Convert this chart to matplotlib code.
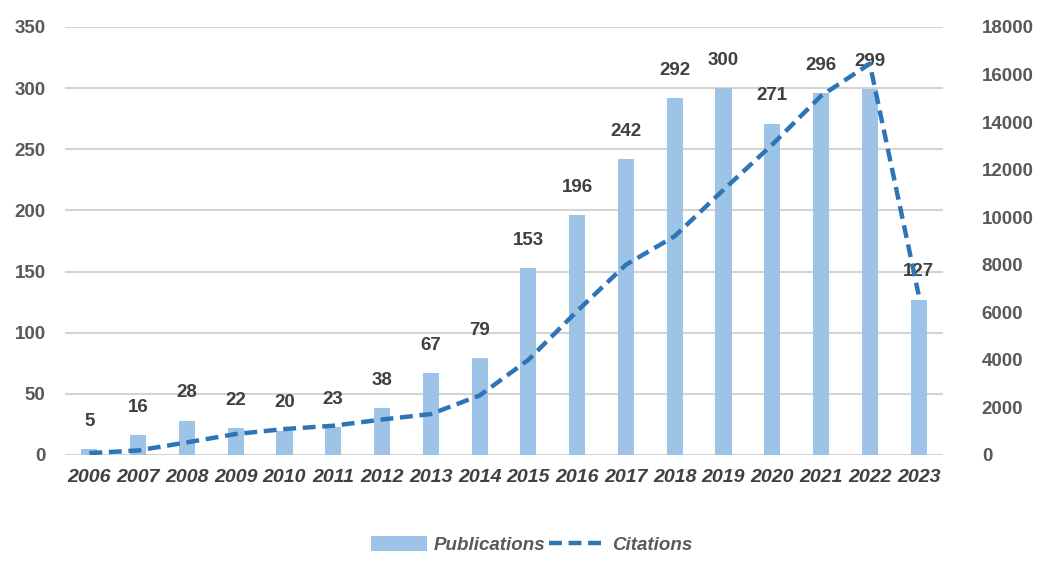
import matplotlib
matplotlib.use("Agg")
import matplotlib.pyplot as plt
from matplotlib.lines import Line2D
from matplotlib.patches import Patch

years = ["2006", "2007", "2008", "2009", "2010", "2011", "2012", "2013", "2014",
         "2015", "2016", "2017", "2018", "2019", "2020", "2021", "2022", "2023"]
publications = [5, 16, 28, 22, 20, 23, 38, 67, 79, 153, 196, 242, 292, 300, 271, 296, 299, 127]
citations = [80, 190, 530, 880, 1090, 1230, 1490, 1720, 2500, 4000, 6050, 8000, 9200,
             11150, 13050, 15100, 16450, 6750]
left_ticks = [0, 50, 100, 150, 200, 250, 300, 350]
right_ticks = [0, 2000, 4000, 6000, 8000, 10000, 12000, 14000, 16000, 18000]

BAR = "#9DC3E6"
LINE = "#2E75B6"
TICK = "#595959"
LABEL = "#404040"
FONT = "Liberation Sans"

fig = plt.figure(figsize=(10.53, 5.61), dpi=100)
ax = fig.add_axes([0.0617, 0.189, 0.8338, 0.763])
x = list(range(len(years)))
ax.bar(x, publications, width=0.33, color=BAR, zorder=2)
ax.set_xlim(-0.5, len(years) - 0.5)
ax.set_ylim(0, 350)
ax.set_yticks(left_ticks)
ax.grid(axis="y", color="#D4D4D4", linewidth=1.5, zorder=0)
for s in ax.spines.values():
    s.set_visible(False)
ax.tick_params(axis="both", length=0)
ax.tick_params(axis="y", pad=14)
ax.tick_params(axis="x", pad=10)
ax.set_xticks(x)
ax.set_xticklabels(years)
for t in ax.get_xticklabels():
    t.set_fontfamily(FONT); t.set_fontweight("bold"); t.set_fontstyle("italic")
    t.set_fontsize(14); t.set_color(LABEL)
for t in ax.get_yticklabels():
    t.set_fontfamily(FONT); t.set_fontweight("bold"); t.set_fontsize(13.5); t.set_color(TICK)

for xi, v in zip(x, publications):
    ax.annotate(str(v), (xi, v), xytext=(0, 20), textcoords="offset points",
                ha="center", va="center", fontfamily=FONT, fontweight="bold",
                fontsize=13.5, color=LABEL, zorder=3)

ax2 = ax.twinx()
ax2.plot(x, citations, color=LINE, linewidth=3.2, linestyle=(0, (2.9, 1.5)), zorder=4)
ax2.set_ylim(0, 18000)
ax2.set_yticks(right_ticks)
for s in ax2.spines.values():
    s.set_visible(False)
ax2.tick_params(axis="y", length=0, pad=28)
for t in ax2.get_yticklabels():
    t.set_fontfamily(FONT); t.set_fontweight("bold"); t.set_fontsize(13.5); t.set_color(TICK)

handles = [Patch(facecolor=BAR, edgecolor="none"),
           Line2D([0], [0], color=LINE, linewidth=3.2, linestyle=(0, (2.9, 1.5)))]
leg = fig.legend(handles, ["Publications", "Citations"], loc="center",
                 bbox_to_anchor=(0.505, 0.028), ncol=2, frameon=False,
                 handlelength=3.0, handleheight=0.8, columnspacing=0.2, handletextpad=0.35,
                 prop={"family": FONT, "weight": "bold", "style": "italic", "size": 13.5})
for t in leg.get_texts():
    t.set_color(TICK)

fig.savefig("out.png", dpi=100, facecolor="white")
